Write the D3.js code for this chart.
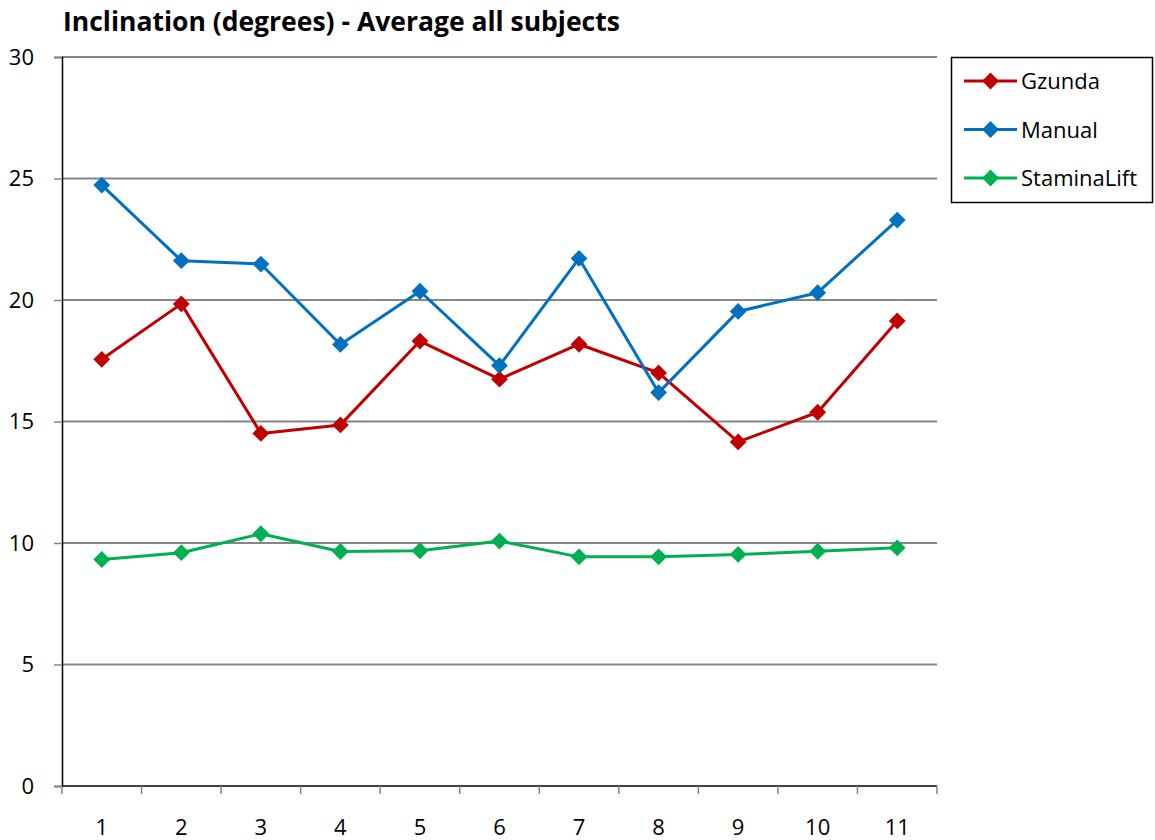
<!DOCTYPE html>
<html>
<head>
<meta charset="utf-8">
<script src="https://cdn.jsdelivr.net/npm/d3@7"></script>
<style>
  html, body { margin: 0; padding: 0; background: #fff; }
  svg { display: block; }
  text { font-family: "Open Sans", "Liberation Sans", sans-serif; }
</style>
</head>
<body>
<svg id="chart" width="1155" height="840"></svg>
<script>
// Inclination averages per trial
const categories = ["1", "2", "3", "4", "5", "6", "7", "8", "9", "10", "11"];
const gzunda      = [17.56, 19.84, 14.51, 14.86, 18.31, 16.74, 18.18, 17.0, 14.16, 15.38, 19.14];
const manual      = [24.73, 21.62, 21.48, 18.17, 20.36, 17.3, 21.71, 16.19, 19.53, 20.3, 23.29];
const staminaLift = [9.32, 9.6, 10.38, 9.65, 9.68, 10.08, 9.43, 9.43, 9.53, 9.66, 9.8];
const yTicks = [0, 5, 10, 15, 20, 25, 30];

const series = [
  { name: "Gzunda", values: gzunda, color: "#C00000" },
  { name: "Manual", values: manual, color: "#0070C0" },
  { name: "StaminaLift", values: staminaLift, color: "#00B050" }
];

const svg = d3.select("#chart");
const plot = { left: 62, right: 937, top: 57, bottom: 786 };

const x = d3.scaleBand().domain(categories).range([plot.left, plot.right]).padding(0);
const y = d3.scaleLinear().domain([0, 30]).range([plot.bottom, plot.top]);
const cx = d => x(d) + x.bandwidth() / 2;

// Title
svg.append("text")
  .attr("x", 63).attr("y", 31)
  .attr("font-size", 26.5).attr("font-weight", "bold")
  .attr("fill", "#000")
  .text("Inclination (degrees) - Average all subjects");

// Horizontal gridlines
svg.append("g")
  .selectAll("line")
  .data(yTicks.filter(t => t > 0))
  .join("line")
  .attr("x1", plot.left).attr("x2", plot.right)
  .attr("y1", d => y(d)).attr("y2", d => y(d))
  .attr("stroke", "#868686").attr("stroke-width", 2);

// Y axis
const yAxis = svg.append("g")
  .attr("transform", `translate(${plot.left},0)`)
  .call(d3.axisLeft(y).tickValues(yTicks).tickSize(8).tickPadding(20));
yAxis.select(".domain").attr("stroke", "#000").attr("stroke-width", 1.5);
yAxis.selectAll(".tick line").attr("stroke", "#868686").attr("stroke-width", 1.5);
yAxis.selectAll(".tick text")
  .attr("font-size", 22).attr("fill", "#000")
  .attr("font-family", "'Open Sans', sans-serif");

// X axis with ticks at category boundaries
const xAxis = svg.append("g")
  .attr("transform", `translate(0,${plot.bottom})`);
xAxis.append("line")
  .attr("x1", plot.left).attr("x2", plot.right)
  .attr("y1", 0).attr("y2", 0)
  .attr("stroke", "#000").attr("stroke-width", 1.5);
const boundaries = categories.map(c => x(c)).concat([x(categories[categories.length - 1]) + x.bandwidth()]);
xAxis.selectAll("line.tick")
  .data(boundaries)
  .join("line")
  .attr("class", "tick")
  .attr("x1", d => d).attr("x2", d => d)
  .attr("y1", 0).attr("y2", 8)
  .attr("stroke", "#868686").attr("stroke-width", 1.5);
xAxis.selectAll("text")
  .data(categories)
  .join("text")
  .attr("x", d => cx(d))
  .attr("y", 49)
  .attr("text-anchor", "middle")
  .attr("font-size", 22).attr("fill", "#000")
  .text(d => d);

// Lines and diamond markers
const line = d3.line().x((v, i) => cx(categories[i])).y(v => y(v));
const diamond = d3.symbol().type(d3.symbolDiamond2).size(180);

series.forEach(s => {
  const g = svg.append("g");
  g.append("path")
    .attr("d", line(s.values))
    .attr("fill", "none")
    .attr("stroke", s.color)
    .attr("stroke-width", 3)
    .attr("stroke-linejoin", "round");
  g.selectAll("path.marker")
    .data(s.values)
    .join("path")
    .attr("class", "marker")
    .attr("transform", (v, i) => `translate(${cx(categories[i])},${y(v)})`)
    .attr("d", diamond)
    .attr("fill", s.color);
});

// Legend
const legend = svg.append("g");
legend.append("rect")
  .attr("x", 951.5).attr("y", 57.5)
  .attr("width", 201).attr("height", 145)
  .attr("fill", "#fff").attr("stroke", "#000").attr("stroke-width", 1.5);
series.forEach((s, i) => {
  const ly = 81 + i * 48.5;
  legend.append("line")
    .attr("x1", 964).attr("x2", 1017)
    .attr("y1", ly).attr("y2", ly)
    .attr("stroke", s.color).attr("stroke-width", 3);
  legend.append("path")
    .attr("transform", `translate(990.5,${ly})`)
    .attr("d", diamond)
    .attr("fill", s.color);
  legend.append("text")
    .attr("x", 1021).attr("y", ly + 8)
    .attr("font-size", 22).attr("fill", "#000")
    .text(s.name);
});
</script>
</body>
</html>
